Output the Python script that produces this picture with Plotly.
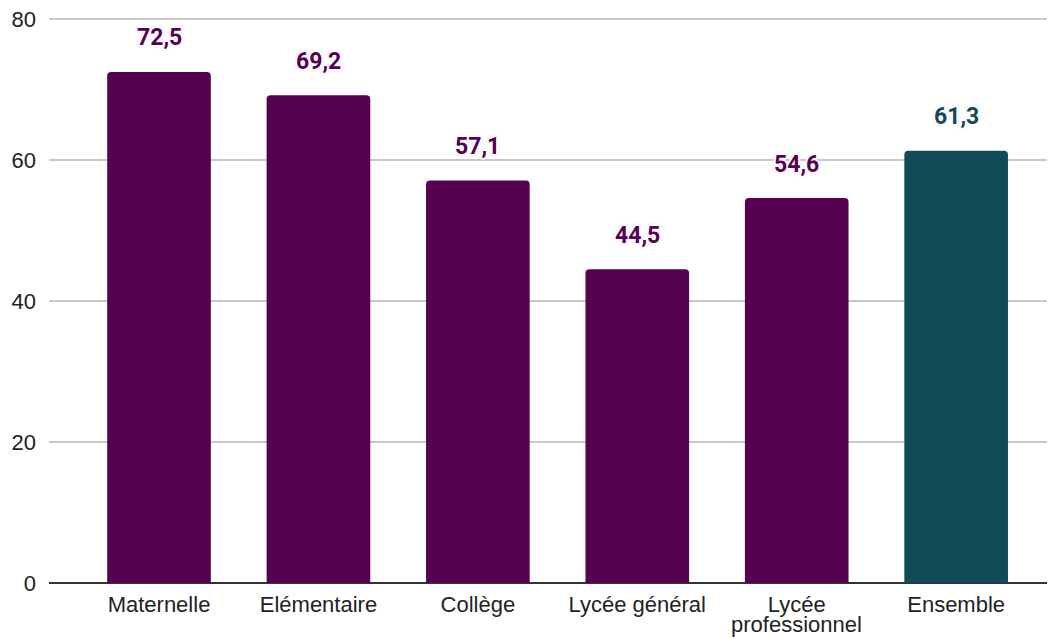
import plotly.graph_objects as go

categories = ["Maternelle", "Elémentaire", "Collège", "Lycée général", "Lycée<br>professionnel", "Ensemble"]
values = [72.5, 69.2, 57.1, 44.5, 54.6, 61.3]
labels = ["72,5", "69,2", "57,1", "44,5", "54,6", "61,3"]
colors = ["#560052", "#560052", "#560052", "#560052", "#560052", "#114b57"]
y_ticks = [0, 20, 40, 60, 80]

xs = list(range(len(categories)))
first_lines = [c.split("<br>")[0] for c in categories]

fig = go.Figure()
fig.add_trace(go.Bar(
    x=xs, y=values,
    marker=dict(color=colors, cornerradius=4, line=dict(width=0)),
    width=0.65, hoverinfo="skip",
))
for i, (v, lab, c) in enumerate(zip(values, labels, colors)):
    fig.add_annotation(
        x=i, y=v, text=f"<b>{lab}</b>", showarrow=False, yshift=34,
        font=dict(family="Roboto", size=23, color=c,
                  shadow="2px 0 1px white, -2px 0 1px white, 0 2px 1px white, 0 -2px 1px white, 0 0 4px #bbb"),
    )
# second line of wrapped category labels (tighter line spacing than tick text)
for i, c in enumerate(categories):
    parts = c.split("<br>")
    if len(parts) > 1:
        fig.add_annotation(
            x=i, y=0, text=parts[1], showarrow=False, yshift=-41, yanchor="middle",
            font=dict(family="Liberation Sans, Arial", size=22, color="#222222"),
        )

fig.update_layout(
    width=1047, height=630,
    margin=dict(l=41, r=0, t=7, b=55),
    plot_bgcolor="white", paper_bgcolor="white",
    showlegend=False,
    font=dict(family="Liberation Sans, Arial", size=22, color="#222222"),
    xaxis=dict(
        tickmode="array", tickvals=xs, ticktext=first_lines,
        range=[-0.69, 5.62], showgrid=False, zeroline=False, showline=False,
        ticks="", tickfont=dict(size=22, color="#222222"), automargin=False,
        ticklabelstandoff=6,
    ),
    yaxis=dict(
        range=[0, 80.57], tickvals=y_ticks, showgrid=True, gridcolor="#c8c8c8", gridwidth=1.5,
        zeroline=True, zerolinecolor="#333333", zerolinewidth=1.5,
        ticks="", ticklabelstandoff=12, tickfont=dict(size=22, color="#222222"),
        automargin=False, ticklabeloverflow="allow",
    ),
)
fig.write_html("out.html")
